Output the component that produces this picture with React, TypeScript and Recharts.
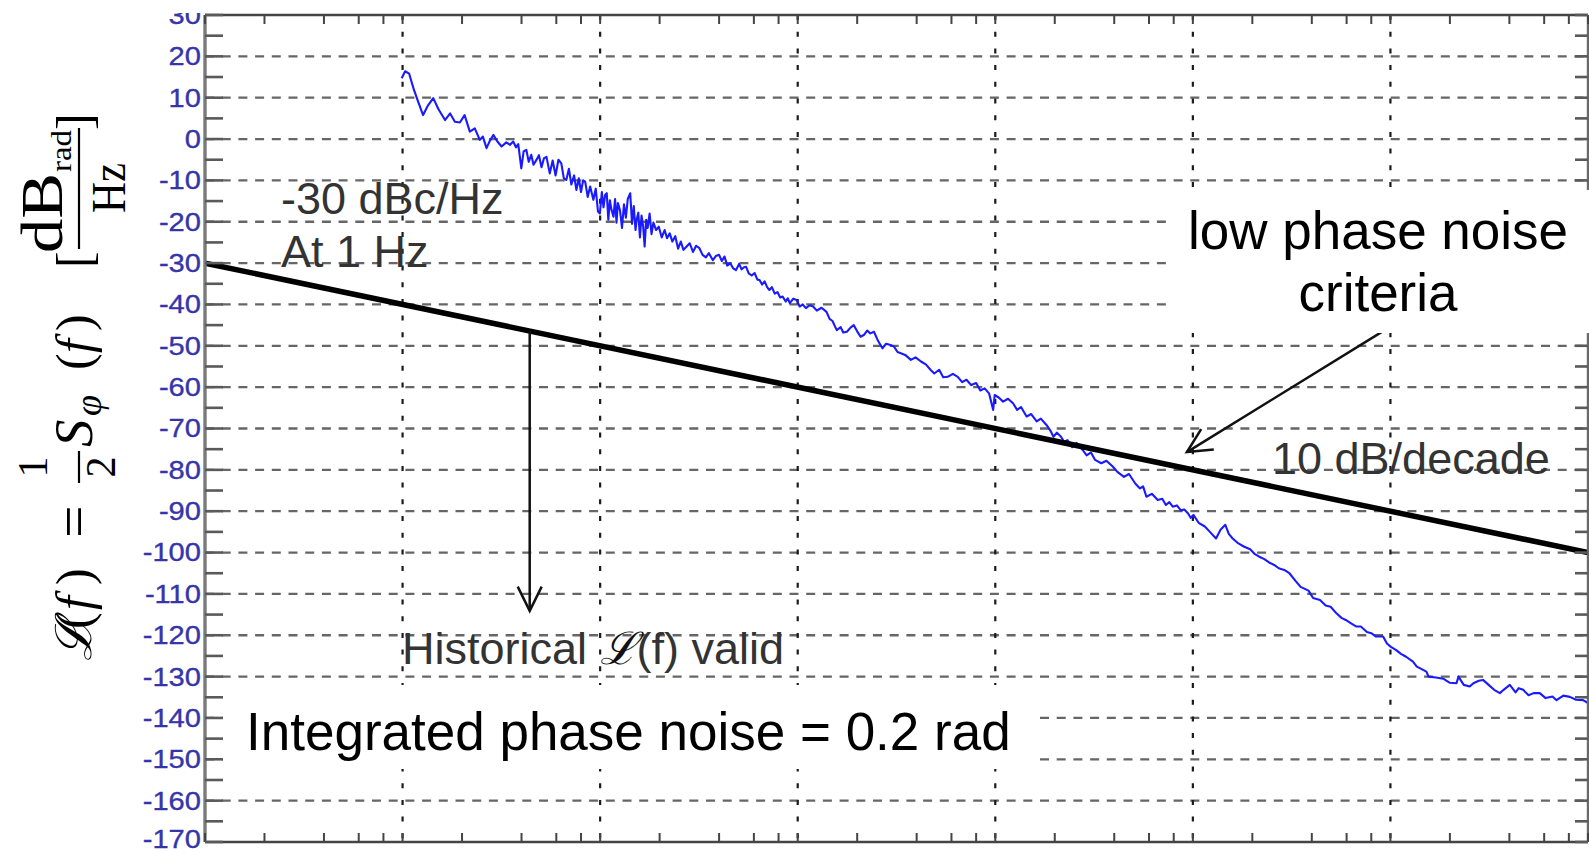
import React from 'react';
import { LineChart, Line, XAxis, YAxis, CartesianGrid, ReferenceLine } from 'recharts';

const W = 1589;
const H = 854;

// ---- axis values ----
const yTickValues = [-170, -165, -160, -155, -150, -145, -140, -135, -130, -125, -120, -115, -110, -105, -100, -95, -90, -85, -80, -75, -70, -65, -60, -55, -50, -45, -40, -35, -30, -25, -20, -15, -10, -5, 0, 5, 10, 15, 20, 25, 30];
const yLabelValues = [30, 20, 10, 0, -10, -20, -30, -40, -50, -60, -70, -80, -90, -100, -110, -120, -130, -140, -150, -160, -170];
const xTickValues = [1, 2, 4, 6, 8, 10, 20, 40, 60, 80, 100, 200, 400, 600, 800, 1000, 2000, 4000, 6000, 8000, 10000, 20000, 40000, 60000, 80000, 100000, 200000, 400000, 600000, 800000, 1000000, 2000000, 4000000, 6000000, 8000000, 10000000];
const gridYValues = [-160, -150, -140, -130, -120, -110, -100, -90, -80, -70, -60, -50, -40, -30, -20, -10, 0, 10, 20];
const gridXValues = [10, 100, 1000, 10000, 100000, 1000000];

// ---- series ----
const criteriaFreqHz = [1, 10000000];
const criteriaLevelDb = [-30, -100];

// measured phase noise trace: [frequency Hz, level dB]
const noiseTrace: [number, number][] = [
  [9.9, 14.7], [10.3, 16.4], [10.8, 15.8], [11.4, 12.0], [12.0, 9.0], [12.7, 5.8], [13.4, 8.0], [14.3, 9.9],
  [15.2, 7.2], [16.4, 4.6], [17.4, 6.2], [18.4, 4.2], [19.5, 4.0], [20.6, 5.8], [21.9, 1.8], [23.2, 2.6],
  [24.6, -0.2], [25.5, 0.6], [26.6, -2.2], [27.6, -0.5], [28.8, 1.0], [30.2, -0.6], [31.7, -1.8], [33.5, -0.8],
  [35.0, -1.4], [36.3, -0.6], [37.5, -2.0], [38.5, -1.2], [39.9, -7.1], [41.0, -3.0], [42.3, -2.6], [43.5, -5.5],
  [44.8, -3.8], [46.0, -6.2], [47.5, -5.1], [49.0, -3.9], [50.5, -6.8], [52.0, -4.6], [53.5, -4.3], [55.6, -8.3],
  [57.5, -5.2], [59.5, -8.8], [61.5, -5.0], [63.6, -5.9], [65.5, -9.5], [67.4, -9.9], [69.5, -7.2], [71.5, -11.0],
  [73.8, -8.8], [75.8, -12.3], [78.0, -9.5], [80.0, -12.8], [82.0, -10.0], [84.0, -10.3], [86.5, -14.0], [89.0, -11.5],
  [92.4, -14.7], [95.0, -12.0], [97.5, -17.5], [99.7, -18.0], [102, -12.8], [104, -16.5], [106, -13.5], [108, -13.1],
  [110, -19.5], [112, -14.8], [114, -17.0], [116.8, -18.8], [119, -14.5], [121, -20.2], [123, -15.5], [126, -17.2],
  [129, -21.5], [132, -15.8], [135, -19.0], [138, -14.5], [142, -13.1], [145, -20.5], [148, -16.2], [151, -22.0],
  [153, -19.6], [156, -17.8], [159, -23.8], [162, -18.5], [165, -21.0], [168, -26.0], [171, -19.5], [174, -21.5],
  [178, -18.0], [182, -23.0], [186, -20.2], [192, -22.0], [198, -21.2], [205, -23.8], [212, -22.0], [218, -24.0],
  [225, -22.8], [232, -24.8], [240, -23.5], [248, -26.5], [256, -24.8], [264, -26.8], [274, -26.0], [284, -25.2],
  [295, -27.3], [306, -25.8], [318, -26.4], [330, -28.0], [343, -28.6], [355, -27.6], [372, -29.3], [385, -28.3],
  [400, -28.0], [413, -29.5], [426, -28.4], [440, -30.6], [455, -30.0], [470, -31.2], [487, -31.7], [505, -30.2],
  [520, -31.5], [535, -31.0], [548, -30.9], [565, -32.5], [585, -33.0], [605, -32.4], [625, -34.0], [641, -34.1],
  [660, -35.2], [680, -34.4], [700, -35.8], [719, -36.5], [740, -35.8], [765, -37.4], [790, -37.0], [815, -38.3],
  [839, -38.1], [870, -39.3], [890, -38.5], [912, -39.7], [950, -38.6], [987, -38.9], [1023, -40.5], [1060, -40.0],
  [1100, -40.9], [1150, -40.2], [1196, -40.5], [1250, -41.5], [1320, -40.8], [1399, -41.8], [1450, -43.5], [1500, -44.0],
  [1576, -46.2], [1650, -45.5], [1700, -46.8], [1774, -46.6], [1850, -45.6], [1920, -45.0], [2000, -46.5], [2080, -47.8],
  [2160, -47.4], [2250, -46.3], [2330, -47.0], [2433, -46.6], [2550, -48.8], [2683, -50.6], [2800, -49.5], [2950, -49.8],
  [3072, -50.2], [3200, -51.5], [3325, -51.8], [3500, -52.2], [3738, -53.4], [3950, -52.8], [4206, -53.8], [4450, -54.5],
  [4700, -55.8], [4910, -56.7], [5200, -55.8], [5450, -57.6], [5744, -57.5], [6100, -56.8], [6456, -57.5], [6800, -58.8],
  [7150, -58.2], [7550, -59.5], [8000, -59.0], [8400, -60.8], [8834, -60.3], [9300, -61.5], [9756, -65.5], [9930, -61.9],
  [10400, -62.5], [10960, -63.5], [11600, -62.8], [12300, -63.9], [12900, -65.5], [13500, -64.8], [14400, -67.1], [15200, -66.5],
  [16200, -68.3], [17000, -67.6], [18200, -69.2], [19000, -70.5], [19700, -72.0], [20500, -71.0], [21500, -72.0], [22300, -73.2],
  [23200, -72.8], [24500, -74.5], [25800, -73.5], [27700, -75.2], [29000, -76.5], [30500, -75.8], [32000, -77.6], [34400, -78.4],
  [36500, -77.8], [39300, -79.2], [41500, -80.5], [44800, -81.7], [47500, -81.0], [51100, -83.3], [54000, -84.5], [56000, -84.0],
  [58200, -86.5], [62000, -85.8], [66400, -87.3], [70000, -87.0], [73000, -88.5], [76000, -87.8], [79100, -88.9], [83000, -88.6],
  [87000, -89.8], [90500, -89.6], [94400, -90.5], [97500, -91.6], [100700, -90.9], [107000, -92.8], [115000, -93.7], [122000, -95.0],
  [131000, -96.6], [138000, -94.5], [146000, -93.3], [152000, -95.5], [159000, -96.6], [170000, -97.8], [182000, -98.6], [195000, -99.2],
  [205000, -100.3], [217000, -101.0], [230000, -101.6], [243000, -102.4], [258000, -103.0], [272000, -103.8], [290000, -104.2], [308000, -105.0],
  [330000, -106.8], [351000, -108.3], [385000, -109.2], [406000, -111.0], [440000, -111.5], [470000, -112.8], [498000, -113.1], [533000, -114.7],
  [565000, -115.8], [594000, -116.3], [635000, -117.2], [673000, -117.9], [708000, -117.9], [760000, -119.2], [800000, -119.5], [843000, -120.3],
  [918000, -120.3], [960000, -122.0], [1005000, -122.8], [1070000, -123.6], [1130000, -124.5], [1200000, -125.2], [1300000, -126.4], [1360000, -127.6],
  [1440000, -128.2], [1520000, -128.8], [1560000, -130.0], [1700000, -130.2], [1850000, -130.5], [2000000, -131.5], [2160000, -131.6], [2210000, -130.0],
  [2350000, -132.0], [2520000, -132.4], [2630000, -131.6], [2800000, -131.0], [2940000, -130.8], [3140000, -132.0], [3350000, -133.2], [3580000, -134.0],
  [3740000, -133.2], [4020000, -132.0], [4300000, -133.8], [4460000, -132.8], [4700000, -133.2], [5000000, -134.5], [5310000, -134.0], [5700000, -134.0],
  [6100000, -135.2], [6610000, -134.8], [6930000, -135.7], [7500000, -134.6], [8090000, -134.9], [8700000, -135.6], [9440000, -135.7], [10000000, -136.4],
];

// annotation arrows (data coordinates)
const arrowDown = [{ x: 44, y: -46.4 }, { x: 44, y: -114.1 }];
const arrowCriteria = [{ x: 1130000, y: -43.8 }, { x: 93300, y: -75.7 }];

const noiseData = noiseTrace.map(([f, db]) => ({ f, db }));
const criteriaData = criteriaFreqHz.map((f, i) => ({ f, db: criteriaLevelDb[i] }));

const SANS = "'Liberation Sans', Arial, sans-serif";
const SERIF = "'Liberation Serif', 'DejaVu Serif', serif";

const LeftTick = (props: any) => {
  const { x, y, payload } = props;
  const v = payload.value;
  const show = yLabelValues.includes(v);
  const ty = v === -170 ? y - 3 : y;
  return (
    <g>
      <line x1={x} x2={x + 18} y1={y} y2={y} stroke="#5a5a5a" strokeWidth={2.6} />
      {show && (
        <text
          transform={`translate(${x - 4},${ty}) scale(1.12,1)`}
          textAnchor="end"
          dominantBaseline="central"
          fontFamily={SANS}
          fontSize={26}
          fill="#3535aa"
          stroke="#3535aa"
          strokeWidth={0.35}
        >
          {v}
        </text>
      )}
    </g>
  );
};

const RightTick = (props: any) => {
  const { x, y } = props;
  return <line x1={x - 13} x2={x} y1={y} y2={y} stroke="#5a5a5a" strokeWidth={2.6} />;
};

const BottomTick = (props: any) => {
  const { x, y } = props;
  return <line x1={x} x2={x} y1={y - 9} y2={y} stroke="#444" strokeWidth={2} />;
};

const TopTick = (props: any) => {
  const { x, y } = props;
  return <line x1={x} x2={x} y1={y} y2={y + 9} stroke="#444" strokeWidth={2} />;
};

const ArrowShape = (p: any) => {
  const x1 = Number(p.x1), y1 = Number(p.y1), x2 = Number(p.x2), y2 = Number(p.y2);
  const ang = Math.atan2(y2 - y1, x2 - x1);
  const L = 27;
  const a = 0.46;
  const w1x = x2 - L * Math.cos(ang - a);
  const w1y = y2 - L * Math.sin(ang - a);
  const w2x = x2 - L * Math.cos(ang + a);
  const w2y = y2 - L * Math.sin(ang + a);
  return (
    <g>
      <line x1={x1} y1={y1} x2={x2} y2={y2} stroke="#111" strokeWidth={2.5} />
      <polyline points={`${w1x},${w1y} ${x2},${y2} ${w2x},${w2y}`} fill="none" stroke="#111" strokeWidth={2.5} />
    </g>
  );
};

const V = ({ start, bx, size, italic, anchor, len, family, children }: any) => (
  <text
    transform={`translate(${bx},${start}) rotate(-90)`}
    fontSize={size}
    fontStyle={italic ? 'italic' : 'normal'}
    fontFamily={family || SERIF}
    textAnchor={anchor || 'start'}
    textLength={len}
    lengthAdjust={len ? 'spacingAndGlyphs' : undefined}
    fill="#000"
  >
    {children}
  </text>
);

export default function App() {
  return (
    <div style={{ position: 'absolute', left: 0, top: 0, width: W, height: H, background: '#fff', overflow: 'hidden' }}>
      <LineChart width={W} height={H} margin={{ top: 14, right: 0, bottom: 11, left: 0 }}>
        <CartesianGrid
          xAxisId="b"
          yAxisId="l"
          vertical={false}
          horizontalValues={gridYValues}
          stroke="#666"
          strokeWidth={2.3}
          strokeDasharray="9 7.7"
        />
        <CartesianGrid
          xAxisId="b"
          yAxisId="l"
          horizontal={false}
          verticalValues={gridXValues}
          stroke="#1a1a1a"
          strokeWidth={2.2}
          strokeDasharray="5 11.7"
        />
        <XAxis
          xAxisId="b"
          dataKey="f"
          type="number"
          scale="log"
          domain={[1, 10000000]}
          allowDataOverflow
          ticks={xTickValues}
          interval={0}
          height={1}
          tickSize={0}
          tickMargin={0}
          tickLine={false}
          tick={<BottomTick />}
          axisLine={{ stroke: '#444', strokeWidth: 2.4 }}
        />
        <XAxis
          xAxisId="t"
          orientation="top"
          dataKey="f"
          type="number"
          scale="log"
          domain={[1, 10000000]}
          allowDataOverflow
          ticks={xTickValues}
          interval={0}
          height={1}
          tickSize={0}
          tickMargin={0}
          tickLine={false}
          tick={<TopTick />}
          axisLine={{ stroke: '#444', strokeWidth: 2.4 }}
        />
        <YAxis
          yAxisId="l"
          type="number"
          domain={[-170, 30]}
          allowDataOverflow
          ticks={yTickValues}
          interval={0}
          width={205}
          tickSize={0}
          tickMargin={0}
          tickLine={false}
          tick={<LeftTick />}
          axisLine={{ stroke: '#7a7a7a', strokeWidth: 3.4 }}
        />
        <YAxis
          yAxisId="r"
          orientation="right"
          type="number"
          domain={[-170, 30]}
          allowDataOverflow
          ticks={yTickValues}
          interval={0}
          width={1}
          tickSize={0}
          tickMargin={0}
          tickLine={false}
          tick={<RightTick />}
          axisLine={{ stroke: '#6a6a6a', strokeWidth: 2.4 }}
        />
        <Line
          xAxisId="b"
          yAxisId="l"
          data={noiseData}
          dataKey="db"
          stroke="#1a1aff"
          strokeWidth={2.1}
          strokeLinejoin="round"
          dot={false}
          isAnimationActive={false}
        />
        <Line
          xAxisId="b"
          yAxisId="l"
          data={criteriaData}
          dataKey="db"
          stroke="#000"
          strokeWidth={5.5}
          dot={false}
          isAnimationActive={false}
        />
        <ReferenceLine xAxisId="b" yAxisId="l" segment={arrowDown} shape={ArrowShape} ifOverflow="visible" />
        <ReferenceLine xAxisId="b" yAxisId="l" segment={arrowCriteria} shape={ArrowShape} ifOverflow="visible" />
      </LineChart>

      <svg width={W} height={H} style={{ position: 'absolute', left: 0, top: 0, pointerEvents: 'none' }}>
        {/* crop at top edge */}
        <rect x={0} y={0} width={200} height={13} fill="#fff" />

        {/* gray annotations */}
        <text x={281} y={214} fontFamily={SANS} fontSize={45} fill="#333">-30 dBc/Hz</text>
        <text x={281} y={267} fontFamily={SANS} fontSize={45} fill="#333">At 1 Hz</text>
        <text x={1272} y={474} fontFamily={SANS} fontSize={45} fill="#333">10 dB/decade</text>
        <text x={402} y={664} fontFamily={SANS} fontSize={45} fill="#333">
          Historical <tspan fontFamily="'DejaVu Serif', serif" fontStyle="italic" fill="#111">ℒ</tspan>(f) valid
        </text>

        {/* boxed annotations */}
        <rect x={1167} y={190} width={422} height={143} fill="#fff" />
        <text x={1378} y={249} textAnchor="middle" fontFamily={SANS} fontSize={53} fill="#000">low phase noise</text>
        <text x={1378} y={311} textAnchor="middle" fontFamily={SANS} fontSize={53} fill="#000">criteria</text>

        <rect x={223} y={685} width={817} height={84} fill="#fff" />
        <text x={246} y={750} fontFamily={SANS} fontSize={53} fill="#000">Integrated phase noise = 0.2 rad</text>

        {/* y-axis label: L(f) = 1/2 S_phi(f) [dB_rad / Hz] */}
        <V start={661} bx={91} size={50} family="'DejaVu Serif', serif" italic>ℒ</V>
        <V start={629} bx={91} size={50}>(</V>
        <V start={610} bx={91} size={50} italic>f</V>
        <V start={585} bx={91} size={50}>)</V>
        <V start={538} bx={93} size={58}>=</V>
        <line x1={79} x2={79} y1={483} y2={451} stroke="#000" strokeWidth={2.2} />
        <V start={467} bx={47} size={42} anchor="middle">1</V>
        <V start={467} bx={115} size={42} anchor="middle">2</V>
        <V start={447} bx={92} size={55} italic>S</V>
        <V start={416} bx={101} size={38} italic>φ</V>
        <V start={370} bx={91} size={50}>(</V>
        <V start={353} bx={91} size={50} italic>f</V>
        <V start={331} bx={91} size={50}>)</V>
        <V start={268} bx={91} size={50}>[</V>
        <V start={253} bx={62} size={60} len={80}>dB</V>
        <V start={172} bx={71} size={30} len={42}>rad</V>
        <line x1={79} x2={79} y1={249} y2={128} stroke="#000" strokeWidth={2.2} />
        <V start={188} bx={125} size={48} anchor="middle" len={50}>Hz</V>
        <V start={130} bx={91} size={50}>]</V>
      </svg>
    </div>
  );
}
